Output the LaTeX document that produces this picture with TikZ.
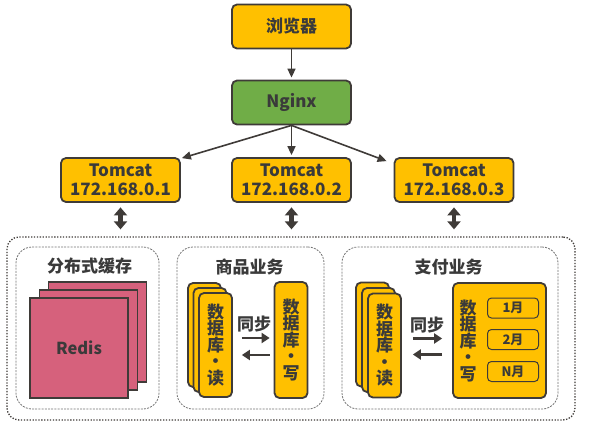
\documentclass[tikz,border=0pt]{standalone}
\usepackage{fontspec}
\setmainfont{Noto Sans CJK SC}
\usetikzlibrary{arrows.meta,positioning,calc}
\definecolor{hyellow}{HTML}{FFC000}
\definecolor{hgreen}{HTML}{70AD47}
\definecolor{hline}{HTML}{3F3B38}
\definecolor{htext}{HTML}{3A3A3A}
\definecolor{hpink}{HTML}{D6617C}
\tikzset{every picture/.style={line width=0.75pt}}
\tikzset{
  srvbox/.style={draw=hline, line width=1.8pt, fill=hyellow, rounded corners=5pt,
    minimum width=119pt, minimum height=44pt, inner sep=0pt, align=center,
    text=htext, font=\bfseries\fontsize{17}{19}\selectfont},
  webbox/.style={srvbox, fill=hgreen},
  dbbox/.style={draw=hline, line width=1.8pt, fill=hyellow, rounded corners=5pt,
    minimum width=33pt, minimum height=104pt, inner sep=0pt, align=center,
    text=htext, font=\bfseries\fontsize{17}{16.5}\selectfont},
  monthbox/.style={draw=hline, line width=1pt, fill=hyellow, rounded corners=4pt,
    minimum width=51pt, minimum height=20pt, inner sep=0pt,
    text=htext, font=\bfseries\fontsize{13}{14}\selectfont},
  redisbox/.style={draw=hline, line width=1.8pt, fill=hpink,
    minimum width=98pt, minimum height=100pt, inner sep=0pt,
    text=htext, font=\bfseries\fontsize{16.5}{19}\selectfont},
  groupbox/.style={draw=black!55, dash pattern=on 2pt off 1.2pt, line width=0.8pt,
    rounded corners=16pt, fill=white, inner sep=0pt},
  titlelbl/.style={text=htext, font=\bfseries\fontsize{17}{19}\selectfont},
  link/.style={draw=hline, line width=1.6pt, -{Triangle[length=9pt,width=8pt]}},
  dblarr/.style={draw=hline, line width=4.5pt,
    {Triangle[length=8pt,width=13pt]}-{Triangle[length=8pt,width=13pt]}},
  syncarr/.style={draw=hline, line width=2.6pt, -{Triangle[length=8pt,width=10pt]}},
}

\begin{document}
\begin{tikzpicture}[x=1pt,y=-1pt]
    \useasboundingbox (0,0) rectangle (592,429);

    % 访问层
    \node[srvbox] (browser) at (291.5,26.5) {浏览器};
    \node[webbox] (nginx) at (291.5,102.5) {Nginx};
    \node[srvbox] (t1) at (120.5,180) {Tomcat\\172.168.0.1};
    \node[srvbox] (t2) at (291.5,180) {Tomcat\\172.168.0.2};
    \node[srvbox] (t3) at (454,180) {Tomcat\\172.168.0.3};

    \draw[link, shorten >=2pt] (browser) -- (nginx);
    \draw[link] (nginx.south) -- ([shift={(1pt,-1pt)}]t1.north east);
    \draw[link, shorten >=2pt] (nginx.south) -- (t2.north);
    \draw[link] (nginx.south) -- ([shift={(-7pt,-4pt)}]t3.north west);

    % 数据层外框
    \node[draw=hline, dash pattern=on 1.3pt off 1.6pt, line width=1.3pt, rounded corners=12pt,
      minimum width=568pt, minimum height=183pt, inner sep=0pt] (cluster) at (291,328.5) {};

    \foreach \t in {t1,t2,t3}
      \draw[dblarr, shorten <=4.5pt, shorten >=7pt] (\t.south) -- (\t.south |- cluster.north);

    % 分布式缓存
    \node[groupbox, minimum width=143pt, minimum height=162pt] (cache) at (87.5,328) {};
    \node[titlelbl] (cachettl) at (89.5,266.5) {分布式缓存};
    \node[redisbox] (rd3) at (97.5,332) {};
    \node[redisbox] (rd2) at (88.5,340) {};
    \node[redisbox] (rd1) at (79,348) {Redis};

    % 商品业务
    \node[groupbox, minimum width=147pt, minimum height=162pt] (goods) at (250.5,328) {};
    \node[titlelbl] (goodsttl) at (249.5,267) {商品业务};
    \node[dbbox] (gr3) at (204.5,335) {};
    \node[dbbox] (gr2) at (210,340) {};
    \node[dbbox] (gr1) at (215.5,345) {数\\据\\库\\·\\读};
    \node[dbbox, minimum height=116pt] (gw) at (291,340) {数\\据\\库\\·\\写};
    \node[titlelbl] (gsync) at (254,324) {同步};
    \draw[syncarr, shorten <=9pt, shorten >=4pt] ([yshift=7pt]gr1.east) -- ([yshift=7pt]gr1.east -| gw.west);
    \draw[syncarr, shorten <=4pt, shorten >=9pt] ([yshift=-10pt]gr1.east -| gw.west) -- ([yshift=-10pt]gr1.east);

    % 支付业务
    \node[groupbox, minimum width=216pt, minimum height=162pt] (pay) at (450,328) {};
    \node[titlelbl] (payttl) at (448.5,267) {支付业务};
    \node[dbbox] (pr3) at (372.5,334.5) {};
    \node[dbbox] (pr2) at (378.5,340) {};
    \node[dbbox] (pr1) at (384.5,345.5) {数\\据\\库\\·\\读};
    \node[dbbox, minimum width=93pt, minimum height=115pt] (pw) at (499.5,340.5) {};
    \node[text=htext, font=\bfseries\fontsize{17}{16.5}\selectfont, align=center] (pwtxt) at (468,341) {数\\据\\库\\·\\写};
    \node[monthbox] (m1) at (513,308) {1月};
    \node[monthbox] (m2) at (513,339.5) {2月};
    \node[monthbox] (mn) at (513,371.5) {N月};
    \node[titlelbl] (psync) at (427,325) {同步};
    \draw[syncarr, shorten <=11pt, shorten >=10pt] ([yshift=7pt]pr1.east) -- ([yshift=7pt]pr1.east -| pw.west);
    \draw[syncarr, shorten <=10pt, shorten >=11pt] ([yshift=-9pt]pr1.east -| pw.west) -- ([yshift=-9pt]pr1.east);
\end{tikzpicture}
\end{document}
